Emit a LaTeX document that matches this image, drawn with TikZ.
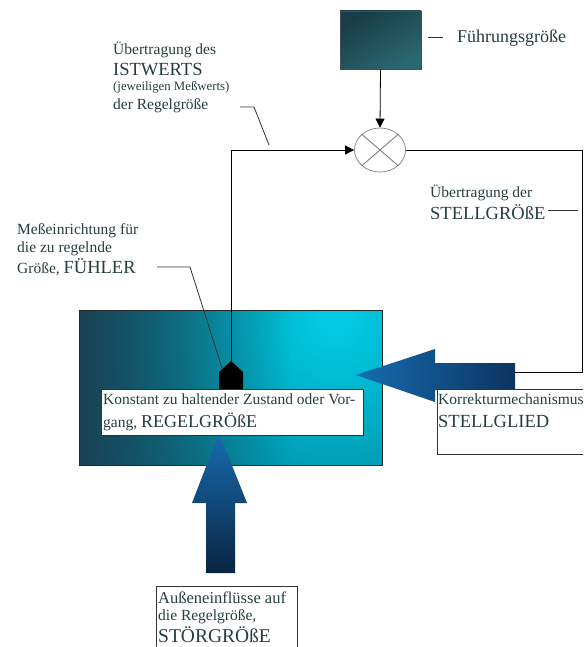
\documentclass[tikz,border=0pt]{standalone}
\usepackage{fontspec}
\setmainfont{Liberation Serif}
\usetikzlibrary{arrows.meta,shapes.geometric,fadings}
\definecolor{txt}{RGB}{38,62,62}
\definecolor{tealdark}{RGB}{26,66,84}
\definecolor{tealmid}{RGB}{0,112,136}
\definecolor{tealbright}{RGB}{0,206,230}
\definecolor{refA}{RGB}{24,60,72}
\definecolor{refB}{RGB}{42,104,112}
\definecolor{blueA}{RGB}{22,108,176}
\definecolor{blueB}{RGB}{12,52,96}
\definecolor{navy}{RGB}{10,36,66}
\tikzset{
  lbl/.style={anchor=base west, inner sep=0pt, text=txt, font=\fontsize{15.5}{17}\selectfont},
  boxlbl/.style={lbl, font=\fontsize{15.5}{17}\selectfont},
  capslbl/.style={lbl, font=\fontsize{18.5}{20}\selectfont},
  smalllbl/.style={lbl, font=\fontsize{12.8}{14}\selectfont},
  conn/.style={line width=0.8pt, black},
  leader/.style={line width=0.8pt, black!80},
  tip/.style={-{Triangle[length=9pt,width=9pt]}},
  wbox/.style={draw=black!80, line width=0.6pt, fill=white, inner sep=0pt, anchor=north west}
}
\newcommand{\capsize}{\fontsize{18.5}{20}\selectfont}
\begin{document}
\begin{tikzpicture}[x=1pt,y=-1pt]
\useasboundingbox (0,0) rectangle (583,647);
\clip (0,0) rectangle (583,647);
\fill[white] (0,0) rectangle (583,647);

% main controlled system box
\begin{scope}
\clip (79,310) rectangle (382,465);
\shade[inner color=tealbright, outer color=tealmid] (335,318) circle (300);
\fill[tealdark, path fading=east] (79,310) rectangle (290,465);
\end{scope}
\node[draw=black!85, line width=0.6pt, minimum width=303pt, minimum height=155pt, inner sep=0pt, anchor=north west] (plant) at (79,310) {};

% reference box
\node[draw=black!70, line width=0.6pt, shading=axis, top color=refA, bottom color=refB, shading angle=30, minimum width=81pt, minimum height=58pt, inner sep=0pt] (ref) at (380.5,40) {};

% comparator
\node[ellipse, draw=black!45, line width=0.8pt, minimum width=51pt, minimum height=44pt, inner sep=0pt] (cmp) at (380,150) {};
\draw[black!55, line width=0.8pt] (cmp.north west) -- (cmp.south east);
\draw[black!55, line width=0.8pt] (cmp.north east) -- (cmp.south west);

% sensor
\fill[black] (219,389) -- (219,372) -- (231,361) -- (243,372) -- (243,389) -- cycle;
\coordinate (sensor) at (231,361);

% Stellglied arrow
\shade[left color=blueA, right color=blueB] (356,375) -- (435,349) -- (435,363) -- (515,363) -- (515,390) -- (435,390) -- (435,402) -- cycle;
\coordinate (sgtail) at (515,372);

% Stoergroesse arrow
\shade[top color=blueA, bottom color=navy] (219,433) -- (247,503) -- (235,503) -- (235,573) -- (206,573) -- (206,503) -- (192,503) -- cycle;

% connectors
\draw[conn, tip] (ref.south) -- (cmp.north);
\draw[conn, tip] (sensor) |- (cmp.west);
\draw[conn] (cmp.east) -| (582,372) -- (sgtail);

% leaders
\draw[leader] (428,37) -- (443,37);
\draw[leader] (240,107) -- (254,107) -- (269,145);
\draw[leader] (548,210) -- (578,210);
\draw[leader] (157,267) -- (190,267) -- (222,368);

% text boxes
\node[wbox, minimum width=262pt, minimum height=46pt] (zbox) at (101,389) {};
\node[wbox, minimum width=160pt, minimum height=65pt] (sgbox) at (437,389) {};
\node[wbox, minimum width=141pt, minimum height=75pt] (stbox) at (156,586) {};

% labels
\node[lbl, font=\fontsize{18}{20}\selectfont] (fg) at (457,43) {Führungsgröße};
\node[lbl] (iw1) at (113,55) {Übertragung des};
\node[capslbl] (iw2) at (113,76) {ISTWERTS};
\node[smalllbl] (iw3) at (113,91) {(jeweiligen Meßwerts)};
\node[lbl] (iw4) at (113,110) {der Regelgröße};
\node[lbl] (sg1) at (430,197) {Übertragung der};
\node[capslbl] (sg2) at (430,219) {STELLGRÖßE};
\node[lbl] (fu1) at (17,234) {Meßeinrichtung für};
\node[lbl] (fu2) at (17,252) {die zu regelnde};
\node[lbl] (fu3) at (17,273) {Größe, {\capsize FÜHLER}};
\node[boxlbl] (rg1) at (103,404) {Konstant zu haltender Zustand oder Vor-};
\node[boxlbl] (rg2) at (103,427) {gang, {\fontsize{18}{20}\selectfont REGELGRÖßE}};
\node[lbl] (sl1) at (438,404) {Korrekturmechanismus};
\node[capslbl] (sl2) at (438,427) {STELLGLIED};
\node[lbl, font=\fontsize{16.5}{18}\selectfont] (st1) at (158,603) {Außeneinflüsse auf};
\node[lbl] (st2) at (158,620) {die Regelgröße,};
\node[capslbl, font=\fontsize{19.5}{21}\selectfont] (st3) at (158,642) {STÖRGRÖßE};
\end{tikzpicture}
\end{document}
